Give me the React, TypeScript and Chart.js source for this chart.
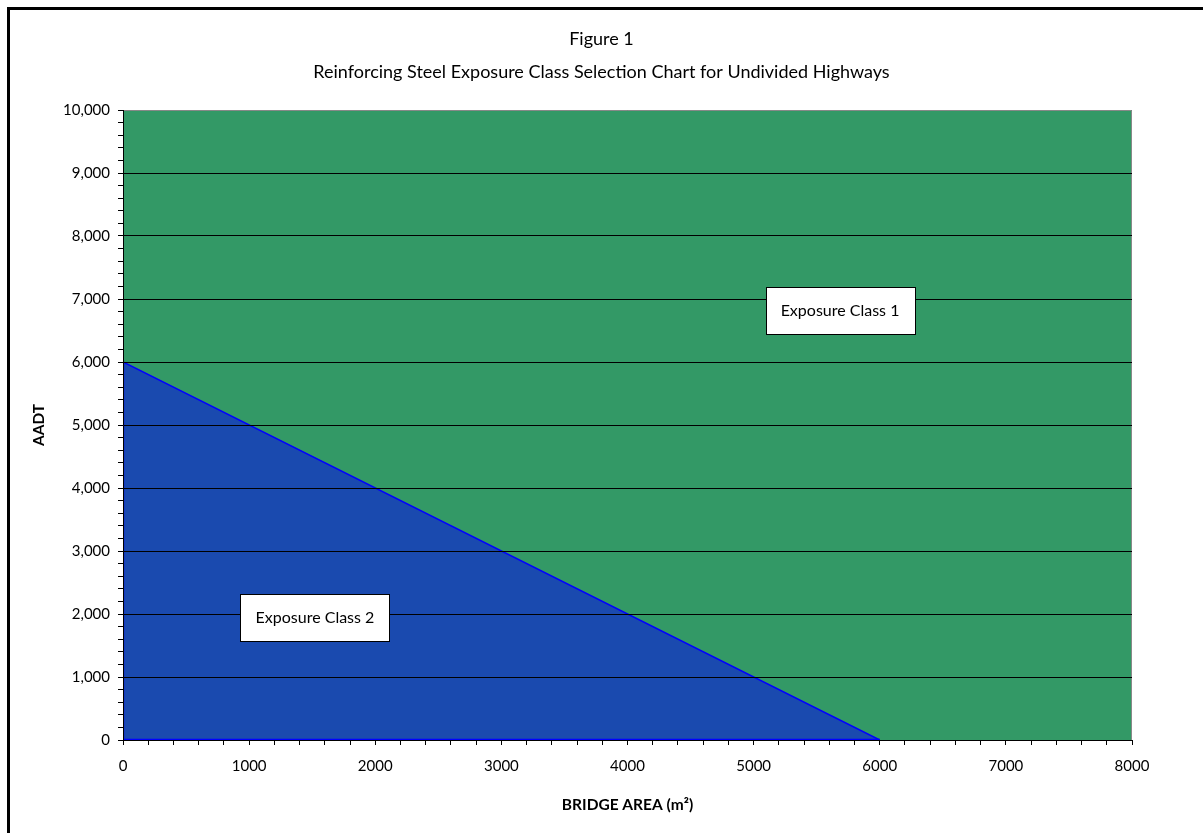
import React, { useEffect, useRef } from 'react';
import { Chart, registerables } from 'chart.js';

Chart.register(...registerables);

const TITLE_LINES = ['Figure 1', 'Reinforcing Steel Exposure Class Selection Chart for Undivided Highways'];
const X_TITLE = 'BRIDGE AREA (m²)';
const Y_TITLE = 'AADT';

const X_MIN = 0;
const X_MAX = 8000;
const Y_MIN = 0;
const Y_MAX = 10000;
const X_STEP = 200;
const Y_STEP = 200;
const MAJOR_X = 1000;
const MAJOR_Y = 1000;

// Exposure Class 1 region (whole plot, drawn behind)
const CLASS1_X = [0, 8000];
const CLASS1_Y = [10000, 10000];
// Exposure Class 2 boundary line (area under it is Class 2)
const CLASS2_X = [0, 6000];
const CLASS2_Y = [6000, 0];
// Class 2 region edges along the axes
const EDGE_X = [6000, 0, 0];
const EDGE_Y = [0, 0, 6000];

// Region labels, anchored at data coordinates
const LABEL_TEXTS = ['Exposure Class 1', 'Exposure Class 2'];
const LABEL_X = [5685, 1522];
const LABEL_Y = [6825, 1952];

const FONT = 'Lato, "Open Sans", sans-serif';
const GREEN = '#339966';
const BLUE_FILL = '#1a4aaf';
const BLUE_LINE = '#0000ff';

const framePlugin = {
  id: 'frameAndTitle',
  afterDatasetsDraw(chart: any) {
    const { ctx, chartArea } = chart;
    ctx.save();
    ctx.strokeStyle = '#888888';
    ctx.lineWidth = 1;
    ctx.beginPath();
    ctx.moveTo(chartArea.left, chartArea.top + 0.5);
    ctx.lineTo(chartArea.right - 0.5, chartArea.top + 0.5);
    ctx.lineTo(chartArea.right - 0.5, chartArea.bottom);
    ctx.stroke();
    ctx.restore();
  },
  afterDraw(chart: any) {
    const { ctx, width, scales } = chart;
    ctx.save();
    // outer frame
    ctx.strokeStyle = '#000';
    ctx.lineWidth = 3;
    ctx.strokeRect(8.5, 8.5, width + 100, chart.height + 100);
    // title
    ctx.fillStyle = '#000';
    ctx.font = `18px ${FONT}`;
    ctx.textAlign = 'center';
    ctx.textBaseline = 'middle';
    ctx.fillText(TITLE_LINES[0], width / 2, 39);
    ctx.fillText(TITLE_LINES[1], width / 2, 72);
    // region labels
    ctx.font = `16px ${FONT}`;
    for (let i = 0; i < LABEL_TEXTS.length; i++) {
      const cx = scales.x.getPixelForValue(LABEL_X[i]);
      const cy = scales.y.getPixelForValue(LABEL_Y[i]);
      const w = 149;
      const h = 47;
      const x0 = Math.round(cx - w / 2) + 0.5;
      const y0 = Math.round(cy - h / 2) + 0.5;
      ctx.fillStyle = '#fff';
      ctx.fillRect(x0, y0, w, h);
      ctx.strokeStyle = '#000';
      ctx.lineWidth = 1;
      ctx.strokeRect(x0, y0, w, h);
      ctx.fillStyle = '#000';
      ctx.fillText(LABEL_TEXTS[i], cx, cy + 1);
    }
    ctx.restore();
  },
};

export default function App() {
  const ref = useRef<HTMLCanvasElement>(null);
  useEffect(() => {
    document.body.style.margin = '0';
    document.body.style.overflow = 'hidden';
    const class1 = CLASS1_X.map((x, i) => ({ x, y: CLASS1_Y[i] }));
    const class2 = CLASS2_X.map((x, i) => ({ x, y: CLASS2_Y[i] }));
    const edges = EDGE_X.map((x, i) => ({ x, y: EDGE_Y[i] }));
    const chart = new Chart(ref.current as HTMLCanvasElement, {
      type: 'line',
      data: {
        datasets: [
          {
            label: 'Class 2 edges',
            data: edges,
            fill: false,
            borderColor: BLUE_LINE,
            borderWidth: 2.5,
            pointRadius: 0,
            tension: 0,
          },
          {
            label: 'Exposure Class 2',
            data: class2,
            fill: 'origin',
            backgroundColor: BLUE_FILL,
            borderColor: BLUE_LINE,
            borderWidth: 1.5,
            pointRadius: 0,
            tension: 0,
          },
          {
            label: 'Exposure Class 1',
            data: class1,
            fill: 'origin',
            backgroundColor: GREEN,
            borderColor: 'rgba(0,0,0,0)',
            borderWidth: 0,
            pointRadius: 0,
            tension: 0,
          },
        ],
      },
      options: {
        animation: false,
        responsive: true,
        maintainAspectRatio: false,
        layout: { padding: { left: 0, right: 71, top: 110, bottom: 0 } },
        plugins: {
          legend: { display: false },
          tooltip: { enabled: false },
          title: { display: false },
        },
        scales: {
          x: {
            type: 'linear',
            min: X_MIN,
            max: X_MAX,
            ticks: {
              stepSize: X_STEP,
              autoSkip: false,
              maxRotation: 0,
              color: '#000',
              padding: 12,
              font: { family: FONT, size: 15 },
              callback: (v: any) => (Number(v) % MAJOR_X === 0 ? String(v) : ''),
            },
            grid: {
              drawOnChartArea: false,
              drawTicks: true,
              tickLength: 5,
              tickColor: '#000',
              color: '#000',
            },
            border: { display: true, color: '#000', width: 1, z: -1 },
            title: {
              display: true,
              text: X_TITLE,
              color: '#000',
              font: { family: FONT, size: 15.5, weight: 'bold' },
              padding: { top: 0, bottom: 19 },
            },
            afterFit: (s: any) => {
              s.height = 93;
            },
          },
          y: {
            type: 'linear',
            min: Y_MIN,
            max: Y_MAX,
            ticks: {
              stepSize: Y_STEP,
              autoSkip: false,
              color: '#000',
              padding: 8,
              font: { family: FONT, size: 15 },
              callback: (v: any) =>
                Number(v) % MAJOR_Y === 0 ? Number(v).toLocaleString('en-US') : '',
            },
            grid: {
              z: 1,
              drawOnChartArea: true,
              drawTicks: true,
              tickLength: 5,
              tickColor: '#000',
              color: (c: any) => {
                const v = c.tick ? c.tick.value : -1;
                return v % MAJOR_Y === 0 && v !== Y_MIN && v !== Y_MAX ? '#000' : 'rgba(0,0,0,0)';
              },
            },
            border: { display: true, color: '#000', width: 1, z: 1 },
            title: {
              display: true,
              text: Y_TITLE,
              color: '#000',
              font: { family: FONT, size: 15.5, weight: 'bold' },
              padding: { top: 30, bottom: 0 },
            },
            afterFit: (s: any) => {
              s.width = 123;
            },
          },
        },
      },
      plugins: [framePlugin],
    } as any);
    return () => chart.destroy();
  }, []);
  return (
    <div style={{ width: 1203, height: 833, position: 'relative' }}>
      <canvas ref={ref} />
    </div>
  );
}
